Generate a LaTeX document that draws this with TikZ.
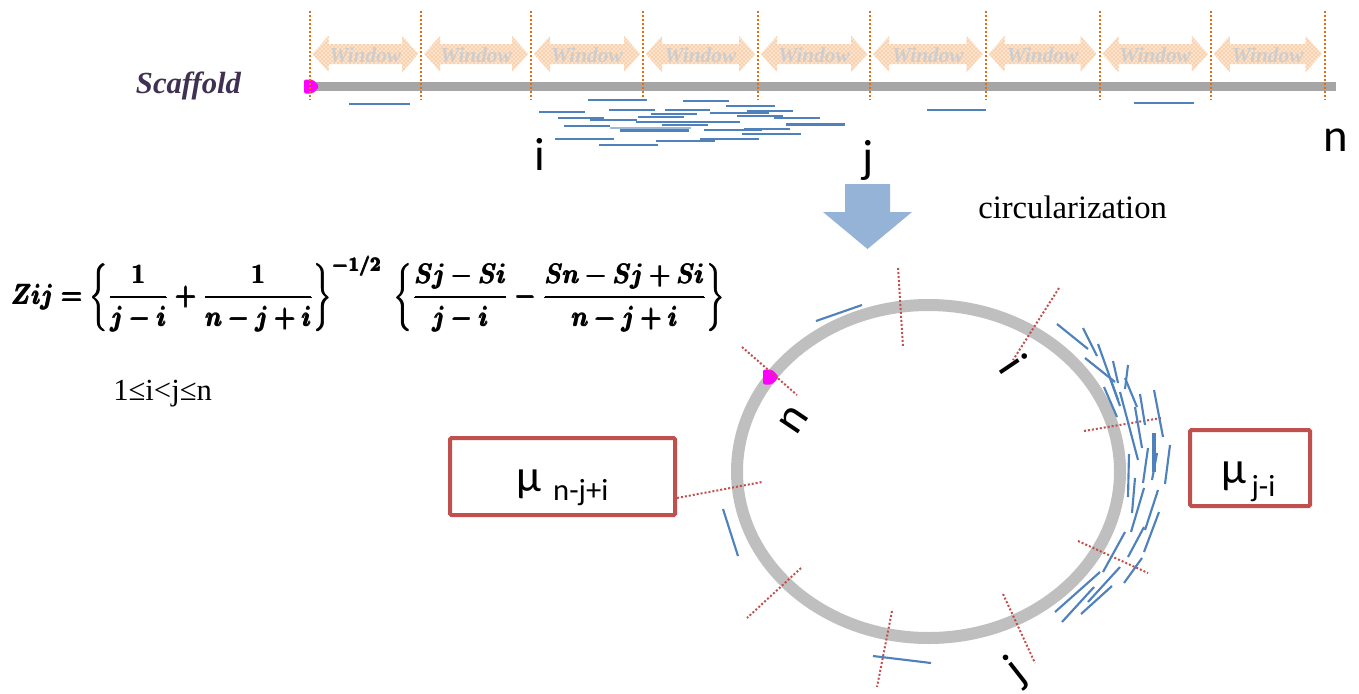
\documentclass[tikz,border=0pt]{standalone}
\usepackage{fontspec}
\usepackage{graphicx}
\usepackage{amsmath}
\usetikzlibrary{patterns}
\newfontfamily\serif{Liberation Serif}
\newfontfamily\calib{Carlito}
\definecolor{readblue}{RGB}{79,129,189}
\definecolor{winorange}{RGB}{228,108,10}
\definecolor{redline}{RGB}{192,80,77}
\definecolor{ringgray}{RGB}{191,191,191}
\definecolor{bargray}{RGB}{166,166,166}
\definecolor{winfill}{RGB}{253,230,210}
\definecolor{winpat}{RGB}{250,205,165}
\definecolor{wintext}{RGB}{205,205,205}
\definecolor{arrowblue}{RGB}{149,179,215}
\definecolor{scafcol}{RGB}{64,49,82}
\definecolor{magentamark}{RGB}{255,0,255}
\begin{document}
\begin{tikzpicture}[x=0.75pt,y=-0.75pt,
  read/.style={draw=readblue,line width=1.6pt},
  odot/.style={draw=winorange,line width=1.5pt,dash pattern=on 1.5pt off 1.5pt},
  rdot/.style={draw=redline,line width=1.5pt,dash pattern=on 1.5pt off 1.5pt},
  redbox/.style={draw=redline,line width=3pt,rounded corners=1pt,fill=white,inner sep=0pt},
  letter/.style={font=\calib\fontsize{35}{35}\selectfont,inner sep=0pt},
  magmark/.style={fill=magentamark,rounded corners=1.5pt}]
\useasboundingbox (0,0) rectangle (1359,693);

% window arrows
\foreach \a/\b [count=\k] in {309.6/421.2,421.2/531,531/643,643/758,758/870.2,870.2/985.7,985.7/1099.5,1099.5/1210.8,1210.8/1324.6}{
  \pgfmathsetmacro\l{\a+3}
  \pgfmathsetmacro\r{\b-3}
  \pgfmathsetmacro\m{(\a+\b)/2}
  \path[fill=winfill] (\l,54) -- (\l+16,36) -- (\l+16,44) -- (\r-16,44) -- (\r-16,36) -- (\r,54) -- (\r-16,72) -- (\r-16,64) -- (\l+16,64) -- (\l+16,72) -- cycle;
  \path[pattern=crosshatch,pattern color=winpat] (\l,54) -- (\l+16,36) -- (\l+16,44) -- (\r-16,44) -- (\r-16,36) -- (\r,54) -- (\r-16,72) -- (\r-16,64) -- (\l+16,64) -- (\l+16,72) -- cycle;
  \node[text=wintext,font=\serif\bfseries\itshape\fontsize{16}{16}\selectfont,inner sep=0pt] (win\k) at (\m,55) {Window};
}

% scaffold bar
\draw[bargray,line width=6.75pt] (312,86.5) -- (1336,86.5);
\fill[magmark] (304,79.5) -- (313,79.5) -- (319.5,86.5) -- (313,93.5) -- (304,93.5) -- cycle;

% orange dotted window borders
\foreach \x in {309.6,421.2,531,643,758,870.2,985.7,1099.5,1210.8,1324.6}{
  \draw[odot] (\x,11) -- (\x,100);
}

\node[font=\serif\bfseries\itshape\fontsize{23}{23}\selectfont,text=scafcol,anchor=base,inner sep=0pt] (scaffold) at (188.5,93) {Scaffold};

% reads on scaffold
\foreach \p/\q/\y in {349/410/104,588/647/100,683/729/101,726/775/106,539/585/112,609/655/110,665/710/110,747/793/111,651/697/114,710/769/113,558/604/118,638/684/117,737/783/116,774/820/118,590/637/120,636/740/122,662/708/125,786/845/124.5,564/610/126,620/689/130.5,704/762/130,744/790/129,742/801/134,555/614/139,656/715/141,700/759/139,599/658/145,927/986/110,1134/1194/103}{
  \draw[read] (\p,\y) -- (\q,\y);
}
\draw[readblue!55,line width=1.6pt] (610,128) -- (691,128);

\node[letter,anchor=base] (ti) at (540,170) {i};
\node[letter,anchor=base] (tj) at (868,172) {j};
\node[letter,anchor=base] (tn) at (1336,151) {n};

% down arrow
\fill[arrowblue] (845,184) -- (890,184) -- (890,212) -- (912,212) -- (867.5,249) -- (823,212) -- (845,212) -- cycle;
\node[font=\serif\fontsize{24.5}{24.5}\selectfont,anchor=base west,inner sep=0pt] (circ) at (978,218) {circularization};

% formula
\node[inner sep=0pt] (formula) at (368.5,293.5) {\resizebox*{535pt}{57pt}{{\boldmath$\pmb{Zij=\left\{\dfrac{1}{j-i}+\dfrac{1}{n-j+i}\right\}^{-1/2}\;\left\{\dfrac{Sj-Si}{j-i}-\dfrac{Sn-Sj+Si}{n-j+i}\right\}}$}}};

\node[font=\serif\fontsize{23}{23}\selectfont,anchor=base west,inner sep=0pt] (cond) at (113,400) {1≤i<j≤n};

% circle
\draw[ringgray,line width=9pt] (928.5,471.5) ellipse [x radius=191.5, y radius=166.5];
\fill[magmark] (763,369.5) -- (772,369.5) -- (779,377) -- (772,384.5) -- (763,384.5) -- cycle;

% boxes
\node[redbox,minimum width=168.75pt,minimum height=57.75pt] (boxL) at (562.5,476.5) {};
\node[redbox,minimum width=90pt,minimum height=57pt] (boxR) at (1250,468) {};
\node[anchor=base west,inner sep=0pt,font=\calib] (muL) at (516,491) {\fontsize{34}{34}\selectfont μ\hspace{9pt}\raisebox{-7pt}{\fontsize{23}{23}\selectfont n-j+i}};
\node[anchor=base west,inner sep=0pt,font=\calib] (muR) at (1221,483) {\fontsize{34}{34}\selectfont μ\hspace{4pt}\raisebox{-10pt}{\fontsize{23}{23}\selectfont j-i}};

% red dotted radial lines
\draw[rdot] (898,268) -- (903,346);
\draw[rdot] (1059,288) -- (1013,360);
\draw[rdot] (742,347) -- (797,395);
\draw[rdot] (1084,431) -- (1161,418);
\draw[rdot] (1078,541) -- (1148,573);
\draw[rdot] (1003,594) -- (1035,663);
\coordinate (lend) at (762,482);
\draw[rdot] (boxL.east) ++(0,21.5) -- (lend);
\draw[rdot] (801,568) -- (747,618);
\draw[rdot] (892,611) -- (877,687);

% reads around circle
\draw[read] (816,321) -- (862,305);
\draw[read] (723,509) -- (738,556);
\draw[read] (873,656) -- (931,663);
\foreach \a/\b/\c/\d in {
1057/324/1088/349,1083/328/1097/356,1085/358/1115/382,1098/344/1118/400,1113/361/1118/383,1128/365/1125/389,1104/387/1117/417,1110/378/1120/406,1125/378/1137/407,1120/392/1138/460,1140/394/1145/425,1154/390/1163/437,1135/407/1142/448,1170/445/1165/484,1148/448/1143/483,1129/454/1128/497,1135/478/1132/513,1157/453/1152/480,1144/488/1131/532,1158/490/1145/530,1159/512/1144/552,1125/532/1103/572,1144/527/1128/557,1142/558/1124/583,1120/567/1088/602,1100/572/1055/612,1094/587/1062/622,1112/586/1081/614}{
  \draw[read] (\a,\b) -- (\c,\d);
}
\draw[readblue,line width=2.6pt] (1154,433) -- (1154,472);

% rotated labels on circle
\node[letter,rotate=-56] (ci) at (1014,364) {i};
\node[letter,rotate=56] (cn) at (794,420) {n};
\node[letter,rotate=38] (cj) at (1016,672) {j};
\end{tikzpicture}
\end{document}
